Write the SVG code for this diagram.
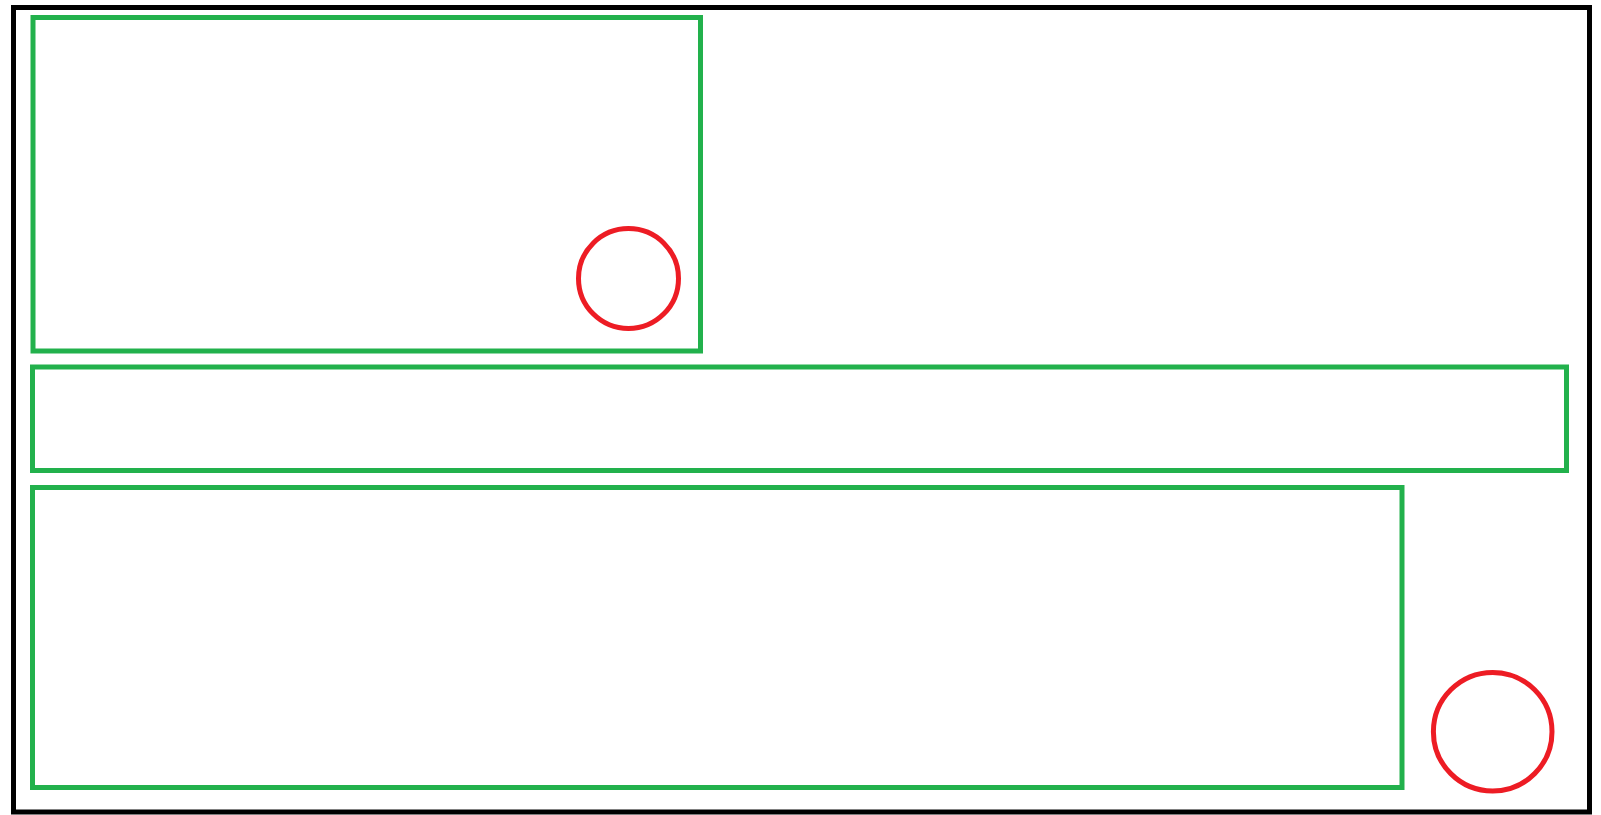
<svg xmlns="http://www.w3.org/2000/svg" width="1601" height="815" viewBox="0 0 1601 815">
  <style>
    .frame { fill: none; stroke: #000000; stroke-width: 5; }
    .box { fill: none; stroke: #22b14c; stroke-width: 5; }
    .ring { fill: none; stroke: #ed1c24; stroke-width: 5; }
  </style>
  <rect x="0" y="0" width="1601" height="815" fill="#ffffff"/>
  <g id="frame">
    <rect class="frame" x="13.5" y="7.5" width="1576" height="804.5"/>
  </g>
  <g id="box-top">
    <rect class="box" x="33" y="17.5" width="667.5" height="333.5"/>
  </g>
  <g id="box-middle">
    <rect class="box" x="32.5" y="367" width="1534" height="103.5"/>
  </g>
  <g id="box-bottom">
    <rect class="box" x="32.5" y="487.5" width="1369.5" height="300"/>
  </g>
  <g id="circle-top">
    <circle class="ring" cx="628.5" cy="278.5" r="50"/>
  </g>
  <g id="circle-bottom">
    <circle class="ring" cx="1492.7" cy="731.7" r="59.3"/>
  </g>
  <g id="connectors"></g>
</svg>
